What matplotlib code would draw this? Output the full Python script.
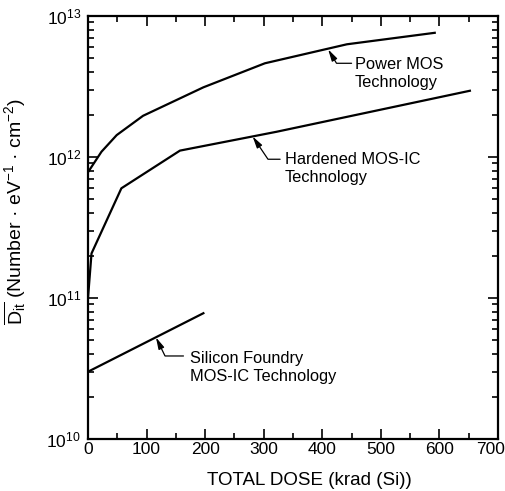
import matplotlib
matplotlib.use("Agg")
import matplotlib.pyplot as plt
import matplotlib.transforms as mtransforms
from matplotlib.ticker import MultipleLocator, LogLocator, NullFormatter

plt.rcParams['font.family'] = ['Liberation Sans', 'DejaVu Sans']
plt.rcParams['mathtext.fontset'] = 'custom'
plt.rcParams['mathtext.rm'] = 'Liberation Sans'
plt.rcParams['mathtext.it'] = 'Liberation Sans'

power_x = [0, 23, 49, 94, 197, 302, 442, 592]
power_y = [7.8e11, 1.09e12, 1.43e12, 1.96e12, 3.12e12, 4.62e12, 6.3e12, 7.6e12]

hard_x = [0, 6, 57, 157, 322, 652]
hard_y = [1.0e11, 2.07e11, 6.0e11, 1.11e12, 1.51e12, 2.95e12]

si_x = [0, 197]
si_y = [3.0e10, 7.8e10]

xticks = [0, 100, 200, 300, 400, 500, 600, 700]
labels = ["Power MOS\nTechnology", "Hardened MOS-IC\nTechnology", "Silicon Foundry\nMOS-IC Technology"]

fig = plt.figure(figsize=(5.06, 4.91), dpi=100)
ax = fig.add_axes([88/506, 1 - 439/491, 410/506, 423/491])

for xs, ys in [(power_x, power_y), (hard_x, hard_y), (si_x, si_y)]:
    ax.plot(xs, ys, color='black', lw=1.6)

ax.set_yscale('log')
ax.set_xlim(0, 700)
ax.set_ylim(1e10, 1e13)
ax.set_xticks(xticks)
ax.xaxis.set_minor_locator(MultipleLocator(50))
ax.yaxis.set_major_locator(LogLocator(base=10, numticks=10))
ax.yaxis.set_minor_locator(LogLocator(base=10, subs=range(2, 10), numticks=20))
ax.yaxis.set_minor_formatter(NullFormatter())
ax.tick_params(which='both', direction='in', top=True, right=True, labelsize=12.5, width=1.2)
ax.tick_params(which='major', length=7)
ax.tick_params(axis='x', which='major', pad=2)
ax.tick_params(axis='y', which='major', pad=5)
ax.tick_params(which='minor', length=4)
for s in ax.spines.values():
    s.set_linewidth(1.6)

# last x tick label sits just inside the figure edge, as in the reference
fig.canvas.draw()
last = ax.get_xticklabels()[-1]
last.set_horizontalalignment('right')
last.set_transform(last.get_transform() + mtransforms.ScaledTranslation(7/100, 0, fig.dpi_scale_trans))

ax.set_xlabel("TOTAL DOSE (krad (Si))", fontsize=13.5, va='center', ha='center')
ax.xaxis.set_label_coords(0.541, -0.099)
ax.set_ylabel(r"$\overline{\mathrm{D_{it}}}$ (Number · eV$^{-1}$ · cm$^{-2}$)", fontsize=14,
              va='center', ha='center')
ax.yaxis.set_label_coords(-0.178, 0.537)

# leader lines: tip on curve, end of horizontal segment, angle of diagonal
leaders = [((410, 5.8e12), (450, 4.62e12), 121),
           ((281, 1.40e12), (328, 9.64e11), 124),
           ((116, 5.26e10), (163, 3.88e10), 116)]
for (tx, ty), (hx, hy), ang in leaders:
    ax.annotate('', xy=(tx, ty), xytext=(hx, hy),
                arrowprops=dict(arrowstyle='-|>,head_length=0.7,head_width=0.18', color='black',
                                lw=0.9, mutation_scale=10, shrinkA=0, shrinkB=0,
                                connectionstyle='angle,angleA=0,angleB=%d,rad=0' % ang))

text_pos = [(456, 3.94e12), (336, 8.28e11), (174, 3.24e10)]
for (x, y), lab in zip(text_pos, labels):
    ax.text(x, y, lab, fontsize=11.8, va='center', ha='left', linespacing=1.25)

fig.savefig("out.png", dpi=100)
